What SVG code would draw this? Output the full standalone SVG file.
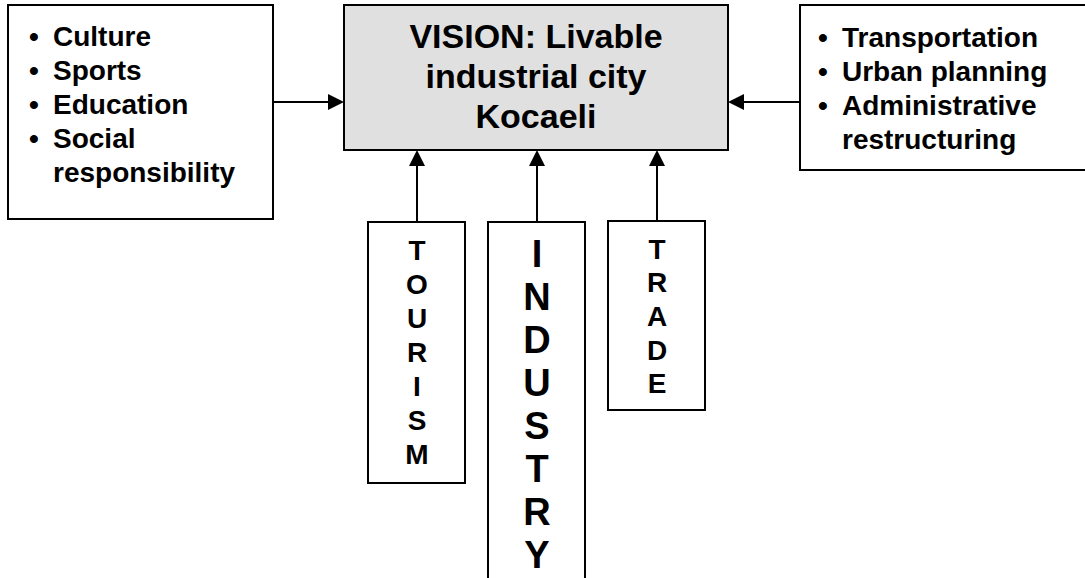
<svg xmlns="http://www.w3.org/2000/svg" width="1085" height="578" viewBox="0 0 1085 578">
  <defs>
    <style>
      .box { fill: #fff; stroke: #000; stroke-width: 2; }
      .vision { fill: #e0e0e0; stroke: #000; stroke-width: 2; }
      .txt { font-family: "Liberation Sans", Arial, sans-serif; font-weight: bold; fill: #000; }
      .list { font-size: 28px; }
      .title { font-size: 34px; text-anchor: middle; }
      .vert { font-size: 28px; text-anchor: middle; }
      .vert-big { font-size: 38px; text-anchor: middle; }
      .line { stroke: #000; stroke-width: 2; fill: none; }
      .head { fill: #000; }
    </style>
  </defs>
  <rect width="1085" height="578" fill="#fff"/>

  <!-- connectors -->
  <g id="connectors">
    <line class="line" x1="273" y1="102" x2="330" y2="102"/>
    <path class="head" d="M328,94 L344,102 L328,110 z"/>
    <line class="line" x1="800" y1="102" x2="742" y2="102"/>
    <path class="head" d="M744,94 L728,102 L744,110 z"/>
    <line class="line" x1="417" y1="222" x2="417" y2="164"/>
    <path class="head" d="M409,166 L417,150 L425,166 z"/>
    <line class="line" x1="537" y1="222" x2="537" y2="164"/>
    <path class="head" d="M529,166 L537,150 L545,166 z"/>
    <line class="line" x1="657" y1="221" x2="657" y2="164"/>
    <path class="head" d="M649,166 L657,150 L665,166 z"/>
  </g>

  <!-- left list -->
  <g id="social">
    <rect class="box" x="8" y="5" width="265" height="214"/>
    <g class="txt list">
      <text x="29" y="46">•</text><text x="53" y="46">Culture</text>
      <text x="29" y="80">•</text><text x="53" y="80">Sports</text>
      <text x="29" y="114">•</text><text x="53" y="114">Education</text>
      <text x="29" y="148">•</text><text x="53" y="148">Social</text>
      <text x="53" y="182">responsibility</text>
    </g>
  </g>

  <!-- vision -->
  <g id="vision">
    <rect class="vision" x="344" y="5" width="384" height="145"/>
    <g class="txt title">
      <text x="536" y="48">VISION: Livable</text>
      <text x="536" y="88">industrial city</text>
      <text x="536" y="128">Kocaeli</text>
    </g>
  </g>

  <!-- right list -->
  <g id="planning">
    <rect class="box" x="800" y="5" width="295" height="165"/>
    <g class="txt list">
      <text x="818" y="47">•</text><text x="842" y="47">Transportation</text>
      <text x="818" y="81">•</text><text x="842" y="81">Urban planning</text>
      <text x="818" y="115">•</text><text x="842" y="115">Administrative</text>
      <text x="842" y="149">restructuring</text>
    </g>
  </g>

  <!-- tourism -->
  <g id="tourism">
    <rect class="box" x="368" y="222" width="97" height="261"/>
    <g class="txt vert">
      <text x="417" y="260">T</text>
      <text x="417" y="294">O</text>
      <text x="417" y="328">U</text>
      <text x="417" y="362">R</text>
      <text x="417" y="396">I</text>
      <text x="417" y="430">S</text>
      <text x="417" y="464">M</text>
    </g>
  </g>

  <!-- industry -->
  <g id="industry">
    <rect class="box" x="488" y="222" width="97" height="370"/>
    <g class="txt vert-big">
      <text x="537" y="267">I</text>
      <text x="537" y="310">N</text>
      <text x="537" y="353">D</text>
      <text x="537" y="396">U</text>
      <text x="537" y="439">S</text>
      <text x="537" y="482">T</text>
      <text x="537" y="525">R</text>
      <text x="537" y="568">Y</text>
    </g>
  </g>

  <!-- trade -->
  <g id="trade">
    <rect class="box" x="608" y="221" width="97" height="189"/>
    <g class="txt vert">
      <text x="657" y="259">T</text>
      <text x="657" y="292">R</text>
      <text x="657" y="326">A</text>
      <text x="657" y="360">D</text>
      <text x="657" y="393">E</text>
    </g>
  </g>
</svg>
